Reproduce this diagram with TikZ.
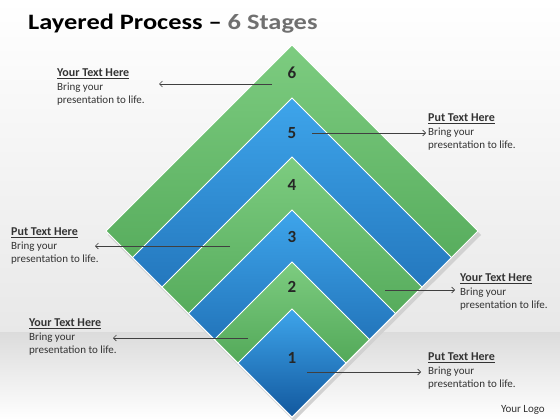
\documentclass[tikz,border=0pt]{standalone}
\usepackage{fontspec}
\setmainfont{Carlito}
\newfontfamily\titlefont{Carlito}[FakeStretch=1.2,Ligatures=TeX]
\usetikzlibrary{arrows.meta}
\definecolor{greentop}{RGB}{125,204,128}
\definecolor{greenbot}{RGB}{60,150,68}
\definecolor{bluetop}{RGB}{62,165,235}
\definecolor{bluebot}{RGB}{18,88,158}
\definecolor{titlegray}{RGB}{112,112,112}
\newcommand\capblock[1]{\underline{\textbf{\fontsize{12}{13}\selectfont #1}}\\Bring your\\presentation to life.}

\begin{document}
\begin{tikzpicture}[x=1pt,y=-1pt,>={Straight Barb[length=3pt,width=6pt]},
  pointer/.style={->,draw=black!75,line width=0.6pt},
  caption/.style={anchor=north west,inner sep=0pt,align=left,font=\fontsize{11}{13.5}\selectfont,text=black!80},
  stagenum/.style={font=\fontsize{17}{17}\selectfont\bfseries,text=black!85}]

  % background
  \useasboundingbox (0,0) rectangle (560,420);
  \shade[top color=white,bottom color=black!9] (0,0) rectangle (560,332);
  \shade[top color=black!14,bottom color=white] (0,332) rectangle (560,420);

  \node[anchor=base west,inner sep=0pt,font=\titlefont\fontsize{22}{22}\selectfont\bfseries] (title) at (28,30)
    {Layered Process – \textcolor{titlegray}{6 Stages}};

  % shadow and layers
  \fill[black!18] (294,47) -- (481,235) -- (294,421) -- (108,235) -- cycle;
  \foreach \t/\ct/\cb/\n/\y in {45/greentop/greenbot/6/73,98/bluetop/bluebot/5/133,157/greentop/greenbot/4/185,
                               210/bluetop/bluebot/3/237,262/greentop/greenbot/2/287,309/bluetop/bluebot/1/358}{
    \pgfmathsetmacro\h{(417-\t)/2}
    \pgfmathsetmacro\m{(417+\t)/2}
    \shade[top color=\ct,bottom color=\cb,draw=white,line width=0.8pt]
      (292,\t) -- (292+\h,\m) -- (292,417) -- (292-\h,\m) -- cycle;
    \node[stagenum] (n\n) at (292,\y) {\n};
  }

  \node[caption] (c6) at (57,69) {\capblock{Your Text Here}};
  \node[caption] (c5) at (428,114) {\capblock{Put Text Here}};
  \node[caption] (c4) at (11,228) {\capblock{Put Text Here}};
  \node[caption] (c3) at (460,274) {\capblock{Your Text Here}};
  \node[caption] (c2) at (29,319) {\capblock{Your Text Here}};
  \node[caption] (c1) at (428,353) {\capblock{Put Text Here}};

  \coordinate (s6) at (272,84);  \coordinate (e6) at (159,84);
  \coordinate (s5) at (312,133); \coordinate (e5) at (426,133);
  \coordinate (s4) at (230,246); \coordinate (e4) at (95,246);
  \coordinate (s3) at (385,290); \coordinate (e3) at (455,290);
  \coordinate (s2) at (248,338); \coordinate (e2) at (113,338);
  \coordinate (s1) at (307,372); \coordinate (e1) at (421,372);
  \foreach \i in {1,...,6}
    \draw[pointer] (s\i) -- (e\i);

  \node[anchor=base east,inner sep=0pt,font=\fontsize{11}{12}\selectfont,text=black!80] (logo) at (545,412) {Your Logo};
\end{tikzpicture}
\end{document}
